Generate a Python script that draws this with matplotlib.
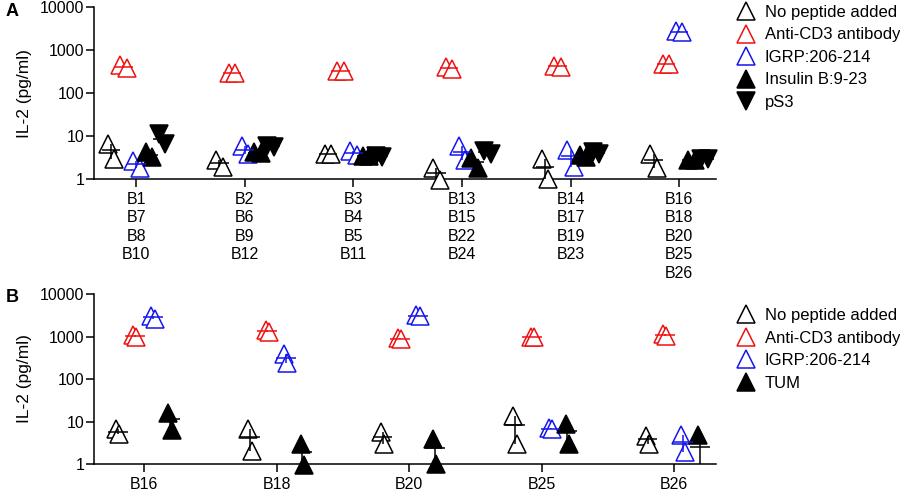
import numpy as np
import matplotlib
matplotlib.use("Agg")
import matplotlib.pyplot as plt
from matplotlib.lines import Line2D

plt.rcParams['font.family'] = ['Liberation Sans', 'DejaVu Sans']

# ---------------- data ----------------
groups_a = ["B1\nB7\nB8\nB10", "B2\nB6\nB9\nB12", "B3\nB4\nB5\nB11",
            "B13\nB15\nB22\nB24", "B14\nB17\nB19\nB23", "B16\nB18\nB20\nB25\nB26"]
labels_a = ["No peptide added", "Anti-CD3 antibody", "IGRP:206-214", "Insulin B:9-23", "pS3"]
nopep_a = [[6.5, 3.0], [2.8, 1.9], [3.8, 3.8], [1.8, 0.95], [2.9, 1.0], [3.8, 1.8]]
cd3_a = [[450, 380], [290, 290], [330, 320], [400, 360], [440, 400], [490, 480]]
igrp_a = [[2.6, 1.8], [5.9, 3.8], [4.6, 3.6], [5.9, 2.8], [4.8, 1.9], [2750, 2700]]
insulin_a = [[4.2, 3.2], [4.2, 4.0], [3.5, 3.4], [3.1, 1.8], [3.6, 3.2], [2.8, 2.8]]
ps3_a = [[11.0, 6.5], [6.0, 5.6], [3.4, 3.3], [4.6, 3.9], [4.2, 3.9], [3.0, 3.0]]

groups_b = ["B16", "B18", "B20", "B25", "B26"]
labels_b = ["No peptide added", "Anti-CD3 antibody", "IGRP:206-214", "TUM"]
nopep_b = [[6.5, 5.0], [6.8, 2.0], [5.6, 2.9], [13.5, 3.0], [4.6, 3.0]]
cd3_b = [[1100, 950], [1450, 1300], [920, 860], [980, 950], [1150, 1050]]
igrp_b = [[3000, 2600], [380, 240], [3200, 3000], [7.0, 6.6], [4.8, 1.9]]
tum_b = [[16.0, 6.4], [2.9, 0.95], [3.8, 1.0], [8.7, 3.0], [4.8, 0.3]]

# ---------------- styles ----------------
RED = '#ee1111'
BLUE = '#1515ee'
styles_a = [dict(marker='^', mec='black', mfc='white', col='black'),
            dict(marker='^', mec=RED, mfc='white', col=RED),
            dict(marker='^', mec=BLUE, mfc='white', col=BLUE),
            dict(marker='^', mec='black', mfc='black', col='black'),
            dict(marker='v', mec='black', mfc='black', col='black')]
styles_b = styles_a[:4]

W, H = 900, 490
fig = plt.figure(figsize=(9, 4.9), dpi=100)


def make_ax(left_px, right_px, top_px, bottom_px):
    return fig.add_axes([left_px / W, 1 - bottom_px / H,
                         (right_px - left_px) / W, (bottom_px - top_px) / H])


def draw_panel(ax, series, styles, offsets, jitter, mean_w, ngroups):
    for s, st, off in zip(series, styles, offsets):
        for g in range(ngroups):
            vals = np.array(s[g], dtype=float)
            xc = g + off
            xs = [xc - jitter, xc + jitter]
            for xv, v in zip(xs, vals):
                if v < 0.5:
                    continue
                ax.plot([xv], [v], linestyle='none', marker=st['marker'],
                        markersize=13.5, mec=st['mec'], mfc=st['mfc'],
                        mew=1.1, clip_on=False, zorder=3)
            m = vals.mean()
            sem = vals.std(ddof=1) / np.sqrt(len(vals))
            lo = max(m - sem, 1.0)
            ax.vlines(xc, lo, m + sem, color=st['col'], lw=1.1, zorder=4)
            ax.hlines(m, xc - mean_w / 2, xc + mean_w / 2, color=st['col'],
                      lw=1.1, zorder=4)


def style_axes(ax, xlim, groups):
    ax.set_yscale('log')
    ax.set_ylim(1, 10000)
    ax.set_xlim(*xlim)
    ax.set_yticks([1, 10, 100, 1000, 10000])
    ax.set_yticklabels(['1', '10', '100', '1000', '10000'])
    ax.yaxis.set_minor_locator(matplotlib.ticker.NullLocator())
    ax.set_xticks(range(len(groups)))
    ax.set_xticklabels(groups, fontsize=11.5, linespacing=1.3)
    for sp in ['top', 'right']:
        ax.spines[sp].set_visible(False)
    for sp in ['left', 'bottom']:
        ax.spines[sp].set_linewidth(1.1)
    ax.tick_params(axis='y', labelsize=11.5, length=6, width=1.1, pad=1)
    ax.tick_params(axis='x', length=6, width=1.1, pad=3)
    ax.set_ylabel('IL-2 (pg/ml)', fontsize=12.5, labelpad=6)


# Panel A
axA = make_ax(94, 716, 7.3, 179)
draw_panel(axA, [nopep_a, cd3_a, igrp_a, insulin_a, ps3_a], styles_a,
           [-0.235, -0.12, 0.0, 0.115, 0.235], 0.03, 0.17, len(groups_a))
style_axes(axA, (-0.39, 5.34), groups_a)

# Panel B
axB = make_ax(94, 716, 294, 464)
draw_panel(axB, [nopep_b, cd3_b, igrp_b, tum_b], styles_b,
           [-0.2, -0.07, 0.068, 0.195], 0.012, 0.15, len(groups_b))
style_axes(axB, (-0.378, 4.317), groups_b)


def add_legend(ax, labels, styles, top_px):
    handles = [Line2D([], [], linestyle='none', marker=st['marker'],
                      markersize=13, mec=st['mec'], mfc=st['mfc'], mew=1.1)
               for st in styles]
    fig.legend(handles, labels, loc='upper left',
               bbox_to_anchor=(735 / W, 1 - top_px / H), frameon=False,
               fontsize=12, handlelength=1.3, handletextpad=0.5,
               labelspacing=0.45, borderpad=0, borderaxespad=0)


add_legend(axA, labels_a, styles_a, 5)
add_legend(axB, labels_b, styles_b, 308)

fig.text(6 / W, 1 - 12 / H, 'A', fontsize=13, fontweight='bold', va='center')
fig.text(6 / W, 1 - 297 / H, 'B', fontsize=13, fontweight='bold', va='center')

fig.savefig('out.png', dpi=100)
